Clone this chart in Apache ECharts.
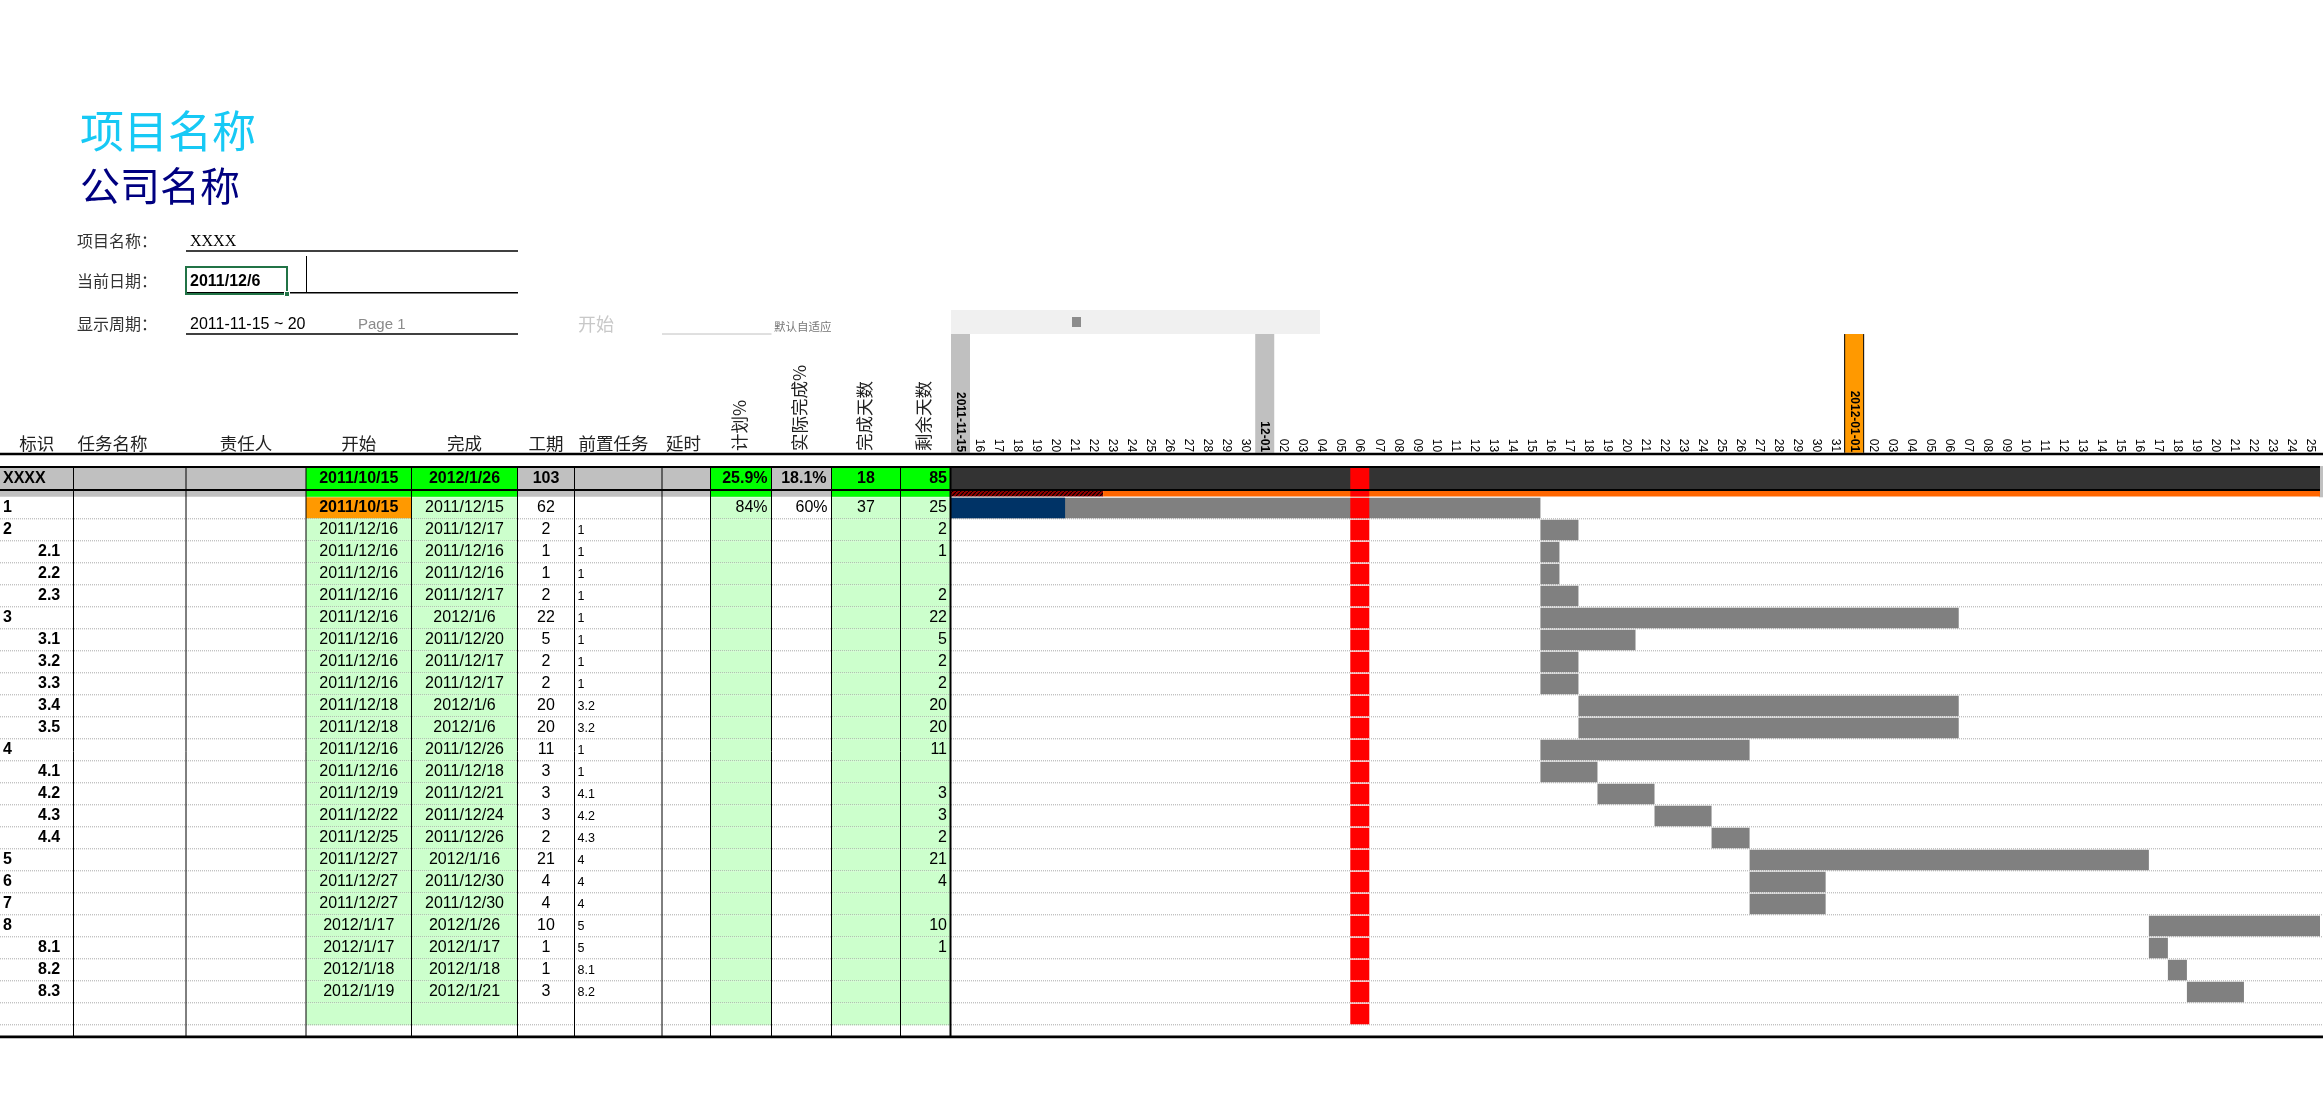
<!DOCTYPE html>
<html><head><meta charset="utf-8">
<script src="https://cdn.jsdelivr.net/npm/echarts@6/dist/echarts.min.js"></script>
<style>html,body{margin:0;padding:0;background:#fff}#c{width:2323px;height:1094px}</style>
</head><body><div id="c"></div>
<script>
// ================= DATA =================
const projectTitle = '项目名称';
const companyTitle = '公司名称';
const projectName = 'XXXX';
const currentDate = '2011/12/6';
const displayPeriod = '2011-11-15 ~ 20';
const pageText = 'Page 1';
const viewStart = '2011/11/15';
const viewEnd = '2012/1/25';

const columnNames = ['标识','任务名称','责任人','开始','完成','工期','前置任务','延时','计划%','实际完成%','完成天数','剩余天数'];

const taskIds = ['1','2','2.1','2.2','2.3','3','3.1','3.2','3.3','3.4','3.5','4','4.1','4.2','4.3','4.4','5','6','7','8','8.1','8.2','8.3'];
const taskStarts = ['2011/10/15','2011/12/16','2011/12/16','2011/12/16','2011/12/16','2011/12/16','2011/12/16','2011/12/16','2011/12/16','2011/12/18','2011/12/18','2011/12/16','2011/12/16','2011/12/19','2011/12/22','2011/12/25','2011/12/27','2011/12/27','2011/12/27','2012/1/17','2012/1/17','2012/1/18','2012/1/19'];
const taskEnds = ['2011/12/15','2011/12/17','2011/12/16','2011/12/16','2011/12/17','2012/1/6','2011/12/20','2011/12/17','2011/12/17','2012/1/6','2012/1/6','2011/12/26','2011/12/18','2011/12/21','2011/12/24','2011/12/26','2012/1/16','2011/12/30','2011/12/30','2012/1/26','2012/1/17','2012/1/18','2012/1/21'];
const taskDurations = [62,2,1,1,2,22,5,2,2,20,20,11,3,3,3,2,21,4,4,10,1,1,3];
const taskPreds = ['','1','1','1','1','1','1','1','1','3.2','3.2','1','1','4.1','4.2','4.3','4','4','4','5','5','8.1','8.2'];
const taskPlanPct = ['84%','','','','','','','','','','','','','','','','','','','','','',''];
const taskActualPct = ['60%','','','','','','','','','','','','','','','','','','','','','',''];
const taskDoneDays = [37,null,null,null,null,null,null,null,null,null,null,null,null,null,null,null,null,null,null,null,null,null,null];
const taskRemainDays = [25,2,1,null,2,22,5,2,2,20,20,11,null,3,3,2,21,4,null,10,1,null,null];

const summaryStart = '2011/10/15';
const summaryEnd = '2012/1/26';
const summaryDuration = 103;
const summaryPlanPct = '25.9%';
const summaryActualPct = '18.1%';
const summaryDoneDays = 18;
const summaryRemainDays = 85;
const summaryProgressEnd = '2011/11/22';

const dayLabels = ['2011-11-15','16','17','18','19','20','21','22','23','24','25','26','27','28','29','30',
 '12-01','02','03','04','05','06','07','08','09','10','11','12','13','14','15','16','17','18','19','20','21','22','23','24','25','26','27','28','29','30','31',
 '2012-01-01','02','03','04','05','06','07','08','09','10','11','12','13','14','15','16','17','18','19','20','21','22','23','24','25'];

// ================= LAYOUT / STYLE =================
const SANS = '"Liberation Sans", Arial, sans-serif';
const CJK = '"Noto Sans CJK SC", sans-serif';
const SERIF = '"Liberation Serif", serif';
const COL_EDGES = [0, 73.5, 186, 306, 411.5, 517.5, 574.5, 662, 710.5, 771.5, 831.5, 900.5, 951];
const GANTT_LEFT = 951, GANTT_W = 1369;
const ROW_H = 22, ROW0_TOP = 497.3;
const Y_MIN = -1.42, Y_MAX = 24.62;
const SUM_BOT = -0.33, HEADER_LINE = -1.97, BOTTOM_LINE = 24.53, HEAD_BG_TOP = -7.42;
const GRID_TOP = ROW0_TOP + Y_MIN * ROW_H;
const GRID_H = (Y_MAX - Y_MIN) * ROW_H;
const GREEN_COLS = [3, 4, 8, 10, 11];
const C_LGREEN = '#CCFFCC', C_GREEN = '#00FF00', C_GRAY = '#C0C0C0', C_ORANGE = '#FF9900';
const C_BAR = '#808080', C_DONE = '#003366', C_TODAY = '#FF0000', C_SUM = '#333333', C_STRIP = '#FF6600';
const N_ROWS = taskIds.length + 1;

const DAY = 86400000;
const toT = s => { const p = s.split('/').map(Number); return new Date(p[0], p[1] - 1, p[2]).getTime(); };
const T0 = toT(viewStart), T1 = toT(viewEnd) + DAY;

// hatch pattern
const hatch = document.createElement('canvas'); hatch.width = 4; hatch.height = 4;
(function(){ const g = hatch.getContext('2d'); g.fillStyle = '#9a0000'; g.fillRect(0,0,4,4);
  g.strokeStyle = '#000'; g.lineWidth = 1.2; g.beginPath(); g.moveTo(-1,5); g.lineTo(5,-1); g.stroke(); })();

function rect(x, y, w, h, fill) { return {type:'rect', shape:{x, y, width:w, height:h}, style:{fill}}; }
function line(x1, y1, x2, y2, stroke, lw, dash) {
  return {type:'line', shape:{x1, y1, x2, y2}, style:{stroke, lineWidth:lw, lineDash: dash || null}};
}
function txt(text, x, y, align, o) {
  return {type:'text', style: Object.assign({text: String(text), x, y, fill:'#000', fontSize:16, fontFamily:SANS,
    align, textAlign: align, verticalAlign:'middle', textVerticalAlign:'middle'}, o || {})};
}

// ================= TABLE (grid 0) =================
function renderTableRow(params, api) {
  const i = params.dataIndex;
  const top = api.coord([0, i])[1], bot = api.coord([0, i + 1])[1];
  const cx = c => api.coord([COL_EDGES[c], 0])[0];
  const cy = (top + bot) / 2 - 0.5;
  const kids = [];
  GREEN_COLS.forEach(c => kids.push(rect(cx(c), top, cx(c + 1) - cx(c), bot - top, C_LGREEN)));
  if (i === 0) kids.push(rect(cx(3), top, cx(4) - cx(3), bot - top - 1, C_ORANGE));
  kids.push(line(cx(0), bot - 0.5, cx(12), bot - 0.5, '#a8a8a8', 1, [1, 1]));
  if (i < taskIds.length) {
    const id = taskIds[i];
    const sub = id.indexOf('.') >= 0;
    kids.push(txt(id, sub ? 38 : 3, cy, 'left', {fontWeight:'bold'}));
    const mid = c => (cx(c) + cx(c + 1)) / 2;
    kids.push(txt(taskStarts[i], mid(3), cy, 'center', i === 0 ? {fontWeight:'bold'} : {}));
    kids.push(txt(taskEnds[i], mid(4), cy, 'center'));
    kids.push(txt(taskDurations[i], mid(5), cy, 'center'));
    if (taskPreds[i]) kids.push(txt(taskPreds[i], cx(6) + 3, cy + 1, 'left', {fontSize:12.5}));
    if (taskPlanPct[i]) kids.push(txt(taskPlanPct[i], cx(9) - 4, cy, 'right'));
    if (taskActualPct[i]) kids.push(txt(taskActualPct[i], cx(10) - 4, cy, 'right'));
    if (taskDoneDays[i] != null) kids.push(txt(taskDoneDays[i], mid(10), cy, 'center'));
    if (taskRemainDays[i] != null) kids.push(txt(taskRemainDays[i], cx(12) - 4, cy, 'right'));
  }
  return {type:'group', children:kids};
}

function renderTableSummary(params, api) {
  const top = api.coord([0, Y_MIN])[1], bot = api.coord([0, SUM_BOT])[1], sbot = api.coord([0, 0])[1];
  const cx = c => api.coord([COL_EDGES[c], 0])[0];
  const mid = c => (cx(c) + cx(c + 1)) / 2;
  const kids = [rect(cx(0), top, cx(12) - cx(0), sbot - top - 0.5, C_GRAY)];
  GREEN_COLS.forEach(c => kids.push(rect(cx(c), top, cx(c + 1) - cx(c), sbot - top - 0.5, C_GREEN)));
  const cy = (top + bot) / 2 + 0.5;
  const b = {fontWeight:'bold'};
  kids.push(txt(projectName, 3, cy, 'left', b));
  kids.push(txt(summaryStart, mid(3), cy, 'center', b));
  kids.push(txt(summaryEnd, mid(4), cy, 'center', b));
  kids.push(txt(summaryDuration, mid(5), cy, 'center', b));
  kids.push(txt(summaryPlanPct, cx(9) - 4, cy, 'right', b));
  kids.push(txt(summaryActualPct, cx(10) - 5, cy, 'right', b));
  kids.push(txt(summaryDoneDays, mid(10), cy, 'center', b));
  kids.push(txt(summaryRemainDays, cx(12) - 4, cy, 'right', b));
  return {type:'group', children:kids};
}

function renderTableFrame(params, api) {
  const Y = v => api.coord([0, v])[1];
  const cx = c => api.coord([COL_EDGES[c], 0])[0];
  const kids = [];
  for (let c = 1; c <= 11; c++) kids.push(line(cx(c), Y(Y_MIN), cx(c), Y(BOTTOM_LINE), '#000', 1));
  kids.push(line(cx(12) - 0.5, Y(Y_MIN), cx(12) - 0.5, Y(BOTTOM_LINE), '#000', 2));
  kids.push(line(cx(0), Y(HEADER_LINE), cx(12), Y(HEADER_LINE), '#000', 2.5));
  kids.push(line(cx(0), Y(Y_MIN) + 1, cx(12), Y(Y_MIN) + 1, '#000', 2));
  kids.push(line(cx(0), Y(SUM_BOT), cx(12), Y(SUM_BOT), '#000', 2));
  kids.push(line(cx(0), Y(BOTTOM_LINE), cx(12), Y(BOTTOM_LINE), '#000', 2.7));
  return {type:'group', children:kids};
}

// ================= GANTT (grid 1) =================
function clipBox(params) { const c = params.coordSys; return {x:c.x, y:c.y, width:c.width, height:c.height}; }
function spanRect(api, params, t0, t1, y0, y1, fill) {
  const x0 = api.coord([t0, 0])[0], x1 = api.coord([t1, 0])[0];
  const r = echarts.graphic.clipRectByRect({x:x0, y:y0, width:x1 - x0, height:y1 - y0}, clipBox(params));
  return r ? {type:'rect', shape:r, style:{fill}} : null;
}

function renderGanttRow(params, api) {
  const i = params.dataIndex;
  const top = api.coord([T0, i])[1], bot = api.coord([T0, i + 1])[1];
  const kids = [line(params.coordSys.x, bot - 0.5, api.getWidth(), bot - 0.5, '#a8a8a8', 1, [1, 1])];
  if (i < taskIds.length) {
    const s = toT(taskStarts[i]), e = toT(taskEnds[i]) + DAY;
    const bar = spanRect(api, params, s, e, top + 0.5, bot - 1, C_BAR);
    if (bar) kids.push(bar);
    if (taskDoneDays[i] != null) {
      const d = spanRect(api, params, s, s + taskDoneDays[i] * DAY, top + 0.5, bot - 1, C_DONE);
      if (d) kids.push(d);
    }
  }
  const td = toT(currentDate);
  const red = spanRect(api, params, td, td + DAY, top + 0.5, bot - 1, C_TODAY);
  if (red) kids.push(red);
  return {type:'group', children:kids};
}

function renderGanttSummary(params, api) {
  const top = api.coord([T0, Y_MIN])[1], bot = api.coord([T0, SUM_BOT])[1], sbot = api.coord([T0, 0])[1];
  const s = toT(summaryStart), e = toT(summaryEnd) + DAY, p = toT(summaryProgressEnd) + DAY;
  const kids = [];
  const c = params.coordSys;
  kids.push(rect(c.x + c.width - 1, top, api.getWidth() - c.x - c.width + 1, sbot - top, C_GRAY));
  [spanRect(api, params, s, e, top, bot, C_SUM),
   spanRect(api, params, s, p, bot + 0.7, sbot - 0.8, {image: hatch, repeat: 'repeat'}),
   spanRect(api, params, p, e, bot + 0.7, sbot - 0.8, C_STRIP)].forEach(r => r && kids.push(r));
  const td = toT(currentDate);
  const red = spanRect(api, params, td, td + DAY, top + 1, sbot - 0.8, C_TODAY);
  if (red) kids.push(red);
  return {type:'group', children:kids};
}

function renderGanttFrame(params, api) {
  const Y = v => api.coord([T0, v])[1];
  const c = params.coordSys, W = api.getWidth();
  return {type:'group', children:[
    line(c.x, Y(HEADER_LINE), W, Y(HEADER_LINE), '#000', 2.5),
    line(c.x, Y(Y_MIN) + 1, c.x + c.width, Y(Y_MIN) + 1, '#000', 2),
    line(c.x, Y(SUM_BOT), c.x + c.width, Y(SUM_BOT), '#000', 2),
    line(c.x, Y(BOTTOM_LINE), W, Y(BOTTOM_LINE), '#000', 2.7)
  ]};
}

function renderHeaderBg(params, api) {
  const k = params.dataIndex, lab = dayLabels[k];
  if (lab.indexOf('-') < 0) return null;
  const x0 = api.coord([T0 + k * DAY, 0])[0], x1 = api.coord([T0 + (k + 1) * DAY, 0])[0];
  const y0 = api.coord([T0, HEAD_BG_TOP])[1], y1 = api.coord([T0, HEADER_LINE])[1] - 1.2;
  const isYear = /01-01$/.test(lab);
  const kids = [rect(x0, y0, x1 - x0, y1 - y0, isYear ? C_ORANGE : C_GRAY)];
  if (isYear) { kids.push(line(x0, y0, x0, y1, '#000', 1)); kids.push(line(x1, y0, x1, y1, '#000', 1)); }
  return {type:'group', children:kids};
}

// ================= GRAPHIC (titles, form, header labels) =================
const g = [];
function gt(text, x, y, o) {
  g.push({type:'text', x, y, style: Object.assign({text, fill:'#000', fontSize:16, fontFamily:CJK,
    align:'left', textAlign:'left', verticalAlign:'middle', textVerticalAlign:'middle'}, o || {})});
}
gt(projectTitle, 80, 131, {fontSize:44, fill:'#17C9F5'});
gt(companyTitle, 80, 186, {fontSize:40, fill:'#000080'});
gt('项目名称：', 77, 241, {fill:'#333'});
gt('当前日期：', 77, 281, {fill:'#333'});
gt('显示周期：', 77, 324, {fill:'#333'});
gt(projectName, 190, 242, {fontFamily:SERIF, fontSize:16});
gt(currentDate, 190, 282, {fontFamily:SANS, fontWeight:'bold', fontSize:16});
gt(displayPeriod, 190, 325, {fontFamily:SANS, fontSize:16});
gt(pageText, 358, 325, {fontFamily:SANS, fontSize:15, fill:'#8a8a8a'});
gt('开始', 578, 324, {fontSize:18, fill:'#c8c8c8'});
gt('默认自适应', 774, 327, {fontSize:11.5, fill:'#777'});
[251, 292.7, 334].forEach(y => g.push({type:'line', shape:{x1:186, y1:y, x2:518, y2:y}, style:{stroke:'#000', lineWidth:1.5}}));
g.push({type:'line', shape:{x1:662, y1:334, x2:771.5, y2:334}, style:{stroke:'#c0c0c0', lineWidth:1}});
g.push({type:'line', shape:{x1:306.5, y1:256, x2:306.5, y2:292}, style:{stroke:'#000', lineWidth:1}});
g.push({type:'rect', shape:{x:186, y:267, width:101, height:27}, style:{fill:'none', stroke:'#217346', lineWidth:2}});
g.push({type:'rect', shape:{x:284.5, y:291.5, width:5, height:5}, style:{fill:'#217346', stroke:'#fff', lineWidth:1}});
// scroll bar
g.push({type:'rect', shape:{x:GANTT_LEFT, y:310, width:369, height:24}, style:{fill:'#F0F0F0'}});
g.push({type:'rect', shape:{x:1072, y:317, width:9, height:10}, style:{fill:'#8c8c8c'}});
// column header labels
const HDR_Y = 443;
const colMid = c => (COL_EDGES[c] + COL_EDGES[c + 1]) / 2;
const hdrAlign = ['center','left','center','center','center','center','left','left'];
for (let c = 0; c < 8; c++) {
  const a = hdrAlign[c];
  gt(columnNames[c], a === 'left' ? COL_EDGES[c] + 4 : colMid(c), HDR_Y, {fontSize:17.5, fill:'#222', align:a, textAlign:a});
}
for (let c = 8; c < 12; c++) {
  g.push({type:'text', x: colMid(c) - 2, y: 451, rotation: Math.PI / 2,
    style:{text: columnNames[c], fill:'#222', fontSize:17.5, fontFamily:CJK, align:'left', textAlign:'left', verticalAlign:'middle', textVerticalAlign:'middle'}});
}

// ================= CHART =================
const chart = echarts.init(document.getElementById('c'), null, {renderer:'canvas', width:2323, height:1094});
const rowIdx = Array.from({length:N_ROWS}, (_, i) => i);
chart.setOption({
  animation: false,
  backgroundColor: '#fff',
  grid: [
    {left: COL_EDGES[0], top: GRID_TOP, width: COL_EDGES[12] - COL_EDGES[0], height: GRID_H},
    {left: GANTT_LEFT, top: GRID_TOP, width: GANTT_W, height: GRID_H}
  ],
  xAxis: [
    {type:'value', gridIndex:0, min:COL_EDGES[0], max:COL_EDGES[12], show:false},
    {type:'time', gridIndex:1, min:T0, max:T1, show:false},
    {type:'category', gridIndex:1, position:'top', data:dayLabels, boundaryGap:true, z:10,
     axisLine:{show:false}, axisTick:{show:false}, splitLine:{show:false},
     axisLabel:{interval:0, rotate:90, margin:14, fontSize:12, fontFamily:SANS, color:'#000',
       formatter: v => v.indexOf('-') >= 0 ? '{b|' + v + '}' : v,
       rich:{b:{fontWeight:'bold', fontSize:12, fontFamily:SANS, color:'#000'}}}}
  ],
  yAxis: [
    {type:'value', gridIndex:0, inverse:true, min:Y_MIN, max:Y_MAX, show:false},
    {type:'value', gridIndex:1, inverse:true, min:Y_MIN, max:Y_MAX, show:false}
  ],
  graphic: {elements: g},
  series: [
    {type:'custom', name:'tableRows', xAxisIndex:0, yAxisIndex:0, z:2, data: rowIdx.map(i => [0, i]), renderItem: renderTableRow},
    {type:'custom', name:'tableSummary', xAxisIndex:0, yAxisIndex:0, z:3, data: [[0, -1]], renderItem: renderTableSummary},
    {type:'custom', name:'tableFrame', xAxisIndex:0, yAxisIndex:0, z:5, data: [[0, 0]], renderItem: renderTableFrame},
    {type:'custom', name:'headerBg', xAxisIndex:1, yAxisIndex:1, z:1, data: dayLabels.map((l, k) => [T0 + k * DAY, -5]), renderItem: renderHeaderBg},
    {type:'custom', name:'ganttRows', xAxisIndex:1, yAxisIndex:1, z:2, data: rowIdx.map(i => [T0, i]), renderItem: renderGanttRow},
    {type:'custom', name:'ganttSummary', xAxisIndex:1, yAxisIndex:1, z:3, data: [[T0, -1]], renderItem: renderGanttSummary},
    {type:'custom', name:'ganttFrame', xAxisIndex:1, yAxisIndex:1, z:5, data: [[T0, 0]], renderItem: renderGanttFrame}
  ]
});
</script></body></html>
